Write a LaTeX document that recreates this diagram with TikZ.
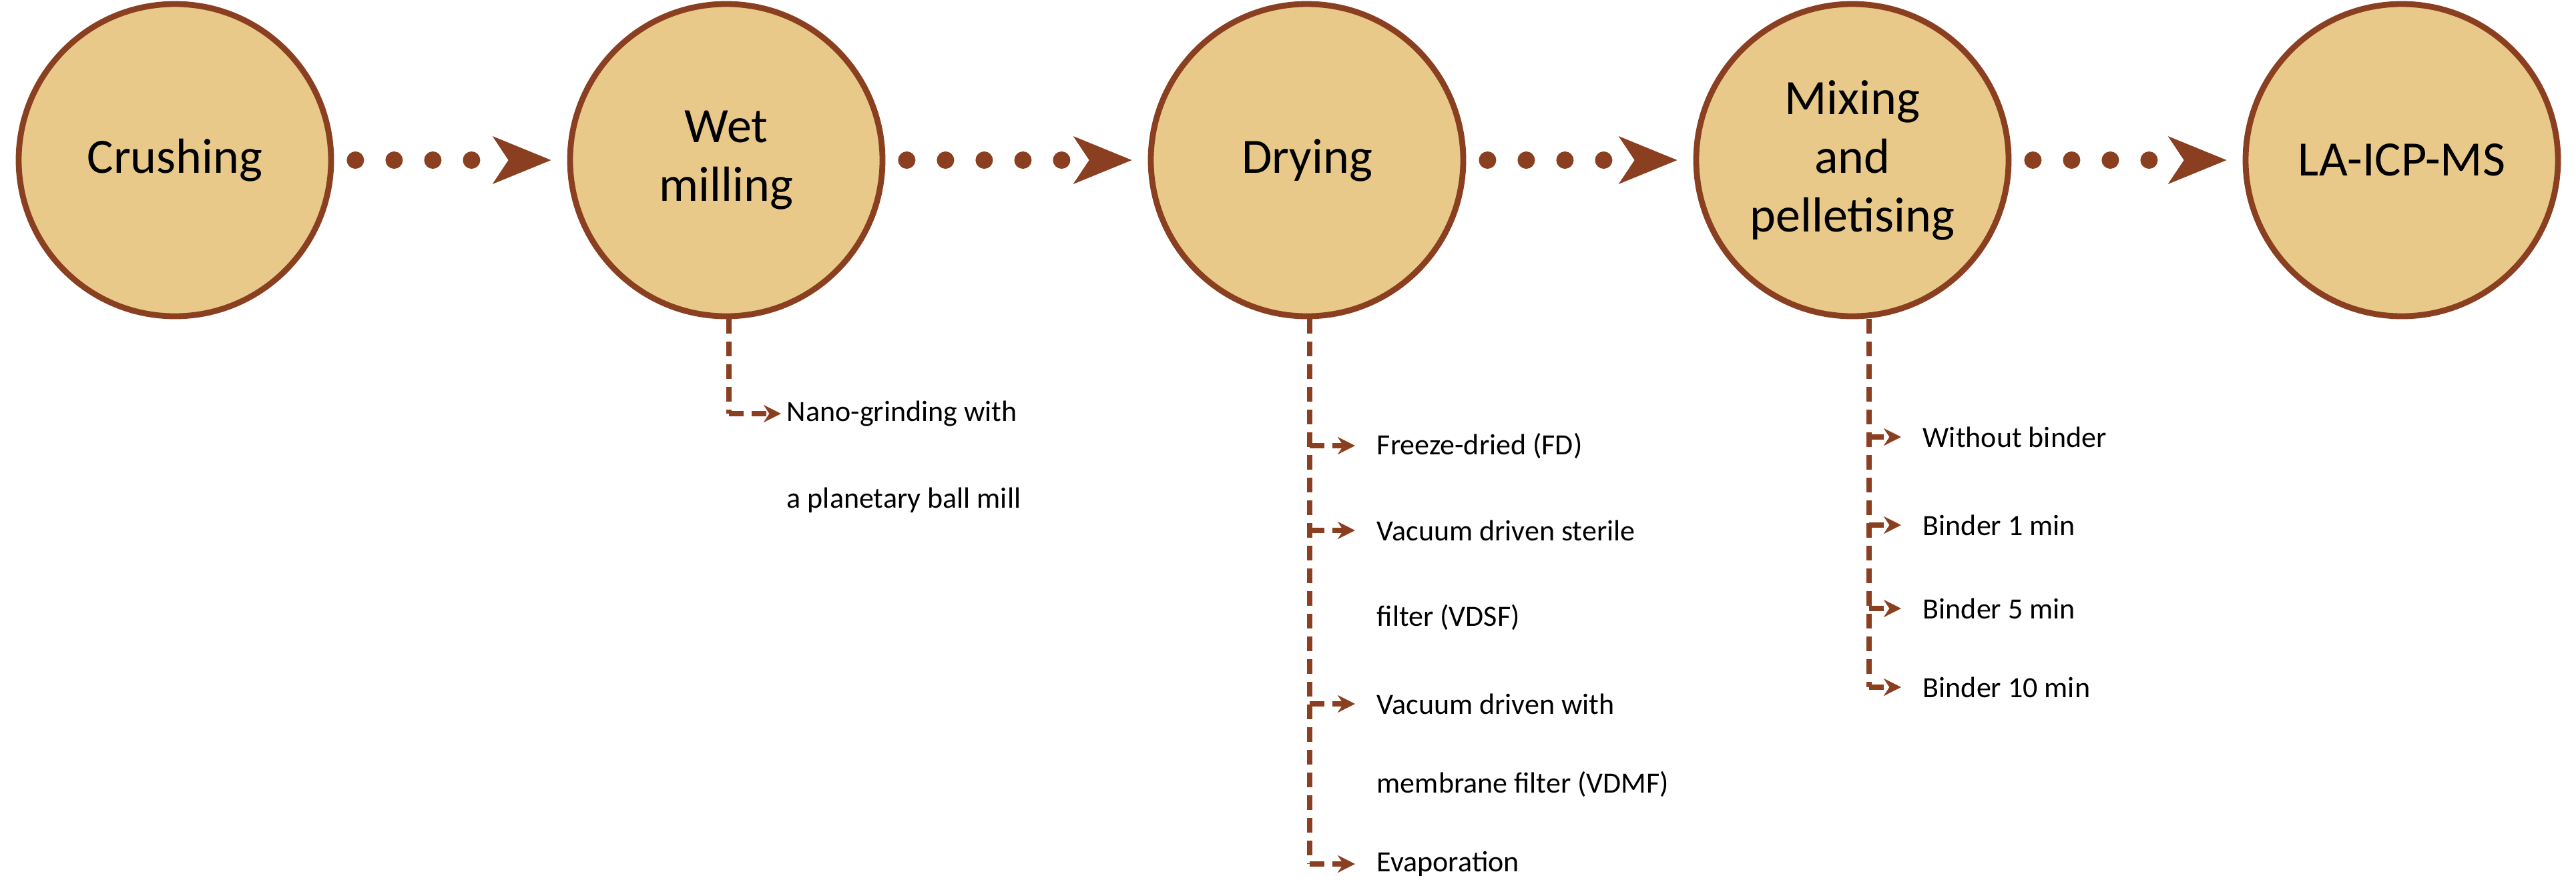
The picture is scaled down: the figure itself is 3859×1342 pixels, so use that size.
\documentclass[tikz,border=0pt]{standalone}
\usepackage{fontspec}
\setmainfont{Carlito}
\usetikzlibrary{arrows.meta}
\definecolor{brn}{HTML}{8A3F20}
\definecolor{tan}{HTML}{E8C98A}
\begin{document}
\begin{tikzpicture}[x=0.25pt,y=-0.25pt,
  proc/.style={circle,draw=brn,fill=tan,line width=2.2pt,minimum size=117pt,inner sep=0pt,align=center,font=\fontsize{18.5}{22}\selectfont},
  dotln/.style={brn,line width=6.5pt,line cap=round,dash pattern=on 0pt off 14.5pt},
  br/.style={brn,line width=2pt,dash pattern=on 5.5pt off 3pt},
  bra/.style={br,-{Stealth[length=6.5pt,width=6.5pt]}},
  lab/.style={anchor=west,inner sep=0pt,font=\fontsize{11}{13}\selectfont}]
\useasboundingbox (0,0) rectangle (3859,1342);
\node[proc] (c1) at (262,240) {Crushing};
\node[proc] (c2) at (1088,240) {Wet\\milling};
\node[proc] (c3) at (1958,240) {Drying};
\node[proc] (c4) at (2775,240) {Mixing\\and\\pelletising};
\node[proc] (c5) at (3598,240) {LA-ICP-MS};
\foreach \a/\b in {c1/c2,c2/c3,c3/c4,c4/c5}{
  \coordinate (s) at ([xshift=8pt]\a.east);
  \coordinate (t) at ([xshift=-6pt]\b.west);
  \draw[dotln] (s) -- ([xshift=-20pt]t);
  \fill[brn] (t) -- ++(-22pt,9pt) -- ++(6pt,-9pt) -- ++(-6pt,-9pt) -- cycle;
}
% wet milling
\coordinate (w0) at (1092,620);
\draw[br] (c2.south -| w0) -- (w0);
\node[lab] (w1) at (1178,620) {Nano-grinding with};
\node[lab] (w2) at (1178,750) {a planetary ball mill};
\draw[bra] (w0) -- ([xshift=-2pt]w1.west);
% drying
\coordinate (d0) at (1962,1295);
\draw[br] (c3.south -| d0) -- (d0);
\foreach \y/\t [count=\i] in {668/Freeze-dried (FD),795/Vacuum driven sterile,1055/Vacuum driven with,1295/Evaporation}{
  \node[lab] (d\i) at (2062,\y) {\t};
  \draw[bra] (1962,\y) -- ([xshift=-8pt]d\i.west);
}
\node[lab] (d5) at (2062,925) {filter (VDSF)};
\node[lab] (d6) at (2062,1175) {membrane filter (VDMF)};
% mixing
\coordinate (m0) at (2800,1030);
\draw[br] (c4.south -| m0) -- (m0);
\foreach \y/\t [count=\i] in {655/Without binder,787/Binder 1 min,912/Binder 5 min,1030/Binder 10 min}{
  \node[lab] (m\i) at (2880,\y) {\t};
  \draw[bra] (2800,\y) -- ([xshift=-8pt]m\i.west);
}
\end{tikzpicture}
\end{document}
